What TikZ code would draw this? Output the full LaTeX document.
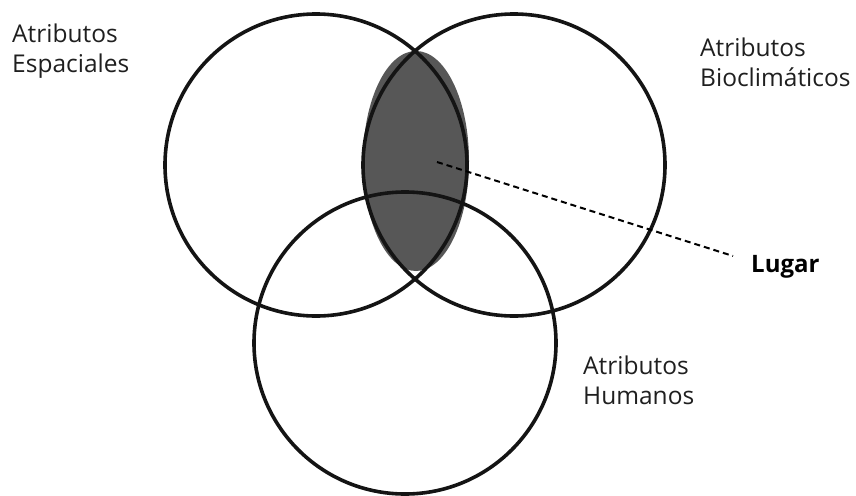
\documentclass[tikz,border=0pt]{standalone}
\usepackage{fontspec}
\setmainfont{Open Sans}
\begin{document}
\begin{tikzpicture}[x=1pt,y=-1pt,
  venn/.style={draw=black!92,line width=3.6pt},
  lbl/.style={anchor=base west,inner sep=0pt,align=left,font=\fontsize{24.5}{30}\selectfont,text=black!88},
  lensfill/.style={fill=black!66}]
\useasboundingbox (0,0) rectangle (856,495);
\fill[lensfill] (416,161) ellipse [x radius=53, y radius=110];
\node[venn,circle,minimum size=302pt,inner sep=0pt] (esp) at (316,165) {};
\node[venn,circle,minimum size=302pt,inner sep=0pt] (bio) at (514,165) {};
\node[venn,circle,minimum size=302pt,inner sep=0pt] (hum) at (405,343) {};
\node[lbl] (tesp) at (12,72) {Atributos\\Espaciales};
\node[lbl] (tbio) at (700,86) {Atributos\\Bioclimáticos};
\node[lbl] (thum) at (583,404) {Atributos\\Humanos};
\node[lbl,font=\fontsize{24}{30}\selectfont\bfseries,text=black] (lugar) at (751,272) {Lugar};
\coordinate (dstart) at (437,162);
\coordinate (dend) at (733,256);
\draw[line width=2pt,dash pattern=on 6pt off 4pt] (dstart) -- (dend);
\end{tikzpicture}
\end{document}
